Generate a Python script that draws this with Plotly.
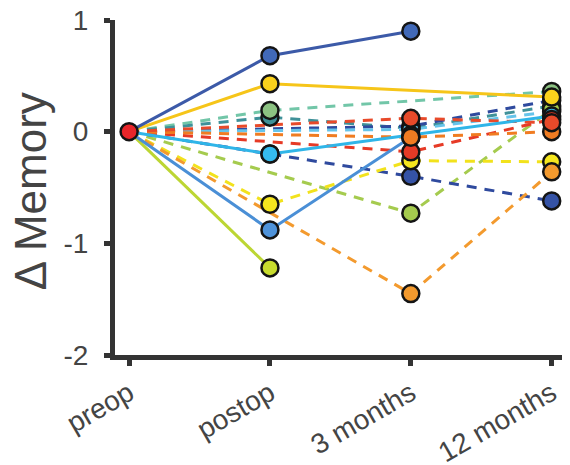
import plotly.graph_objects as go

categories = ["preop", "postop", "3 months", "12 months"]
y_ticks = [-2, -1, 0, 1]

# solid lines
dark_blue_solid = [0, 0.68, 0.90, None]
gold_solid = [0, 0.43, None, 0.31]
cyan_solid = [0, -0.20, -0.03, 0.14]
blue_solid = [0, -0.88, -0.05, None]
lime_solid = [0, -1.22, None, None]
# dashed lines
mint_dashed = [0, 0.19, None, 0.36]
teal_dashed = [0, 0.13, 0.03, 0.23]
navy_dashed_up = [0, None, 0.05, 0.28]
sky_dashed = [0, None, 0.02, 0.18]
red_dashed_a = [0, None, 0.12, 0.08]
red_dashed_b = [0, None, -0.18, 0.11]
orange_dashed_a = [0, None, -0.05, 0.0]
navy_dashed_low = [0, -0.20, -0.40, -0.62]
green_dashed = [0, None, -0.73, 0.20]
yellow_dashed = [0, -0.65, -0.26, -0.27]
orange_dashed_b = [0, None, -1.45, -0.36]

# (values, line colour, marker colour, dash)
lines_order = [
    (mint_dashed, "#72c6a8", "#8cc282", "dash"),        # 0
    (teal_dashed, "#3f9199", "#3f9199", "dash"),        # 1
    (navy_dashed_up, "#2f4a9e", "#2f4a9e", "dash"),     # 2
    (sky_dashed, "#66c4ea", "#66c4ea", "dash"),         # 3
    (green_dashed, "#a5cb4e", "#a5cb4e", "dash"),       # 4
    (navy_dashed_low, "#2f4a9e", "#3553a6", "dash"),    # 5
    (yellow_dashed, "#f2e21c", "#f5e61e", "dash"),      # 6
    (orange_dashed_b, "#f39a2e", "#f39a2e", "dash"),    # 7
    (red_dashed_b, "#e63a26", "#e63a26", "dash"),       # 8
    (orange_dashed_a, "#f07c22", "#f07c22", "dash"),    # 9
    (red_dashed_a, "#e84a2a", "#e84a2a", "dash"),       # 10
    (lime_solid, "#bcd633", "#c8dc2e", "solid"),        # 11
    (blue_solid, "#4a8fd6", "#4f93da", "solid"),        # 12
    (cyan_solid, "#2fb5e8", "#35bbee", "solid"),        # 13
    (gold_solid, "#f6c519", "#fbd21c", "solid"),        # 14
    (dark_blue_solid, "#3c5aa8", "#4169b8", "solid"),   # 15
]
# marker stacking order (last on top)
marker_order = [1, 2, 3, 4, 0, 5, 11, 12, 13, 15, 14, 6, 7, 8, 9, 10]

fig = go.Figure()
for vals, lc, mc, dash in lines_order:
    fig.add_trace(go.Scatter(
        x=categories, y=vals, mode="lines", connectgaps=True,
        line=dict(color=lc, width=3, dash="10px,8px" if dash == "dash" else "solid"),
        showlegend=False, hoverinfo="skip"))
for i in marker_order:
    vals, lc, mc, dash = lines_order[i]
    fig.add_trace(go.Scatter(
        x=categories[1:], y=vals[1:], mode="markers",
        marker=dict(size=17, color=mc, line=dict(color="#141414", width=2.5)),
        showlegend=False))
# every series starts at 0 at preop; the red marker is on top
fig.add_trace(go.Scatter(
    x=categories[:1], y=red_dashed_a[:1], mode="markers",
    marker=dict(size=17, color="#e8262a", line=dict(color="#141414", width=2.5)),
    showlegend=False))

axis_common = dict(
    showline=True, linecolor="#333333", linewidth=5,
    ticks="outside", ticklen=6, tickwidth=5, tickcolor="#333333",
    tickfont=dict(family="Liberation Sans, Arial, sans-serif", size=28, color="#444444"),
    showgrid=False, zeroline=False, automargin=False, ticklabeloverflow="allow",
)
fig.update_xaxes(type="category", range=[-0.1, 3.13], tickangle=-30,
                 ticklabelstandoff=0, **axis_common)
fig.update_yaxes(range=[-2, 1], tickvals=y_ticks, ticktext=[str(v) for v in y_ticks],
                 ticklabelstandoff=10, **axis_common)

fig.add_annotation(
    text="Δ Memory", textangle=-90, showarrow=False,
    xref="paper", yref="paper", x=-0.186, y=0.49, xanchor="center", yanchor="middle",
    font=dict(family="Liberation Sans, Arial, sans-serif", size=44, color="#444444"))

# the page body adds an 8px offset, so the figure is 8px smaller with matching margins
fig.update_layout(
    width=562, height=457,
    margin=dict(l=107, r=0, t=12, b=110, autoexpand=False),
    paper_bgcolor="white", plot_bgcolor="white",
)
fig.write_html("out.html")
